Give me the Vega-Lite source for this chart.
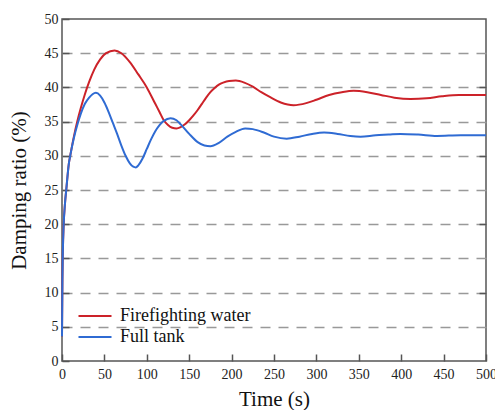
{
  "$schema": "https://vega.github.io/schema/vega-lite/v6.json",
  "width": 424,
  "height": 342,
  "autosize": {"type": "none"},
  "padding": {"left": 62, "top": 19, "right": 9, "bottom": 49},
  "background": "white",
  "config": {
    "font": "Liberation Serif, Times New Roman, serif",
    "view": {"stroke": "#555", "strokeWidth": 1.5},
    "axis": {
      "labelFont": "Liberation Serif, Times New Roman, serif",
      "titleFont": "Liberation Serif, Times New Roman, serif",
      "labelFontSize": 14,
      "titleFontSize": 21,
      "titleFontWeight": "normal",
      "labelColor": "#222",
      "titleColor": "#111",
      "domain": false,
      "tickColor": "#555",
      "tickWidth": 1.5,
      "tickSize": -7
    },
    "legend": {
      "labelFont": "Liberation Serif, Times New Roman, serif",
      "labelFontSize": 18,
      "labelColor": "#111"
    }
  },
  "data": {
    "values": [
      {"series": "Firefighting water", "t": 0, "v": 3.6},
      {"series": "Firefighting water", "t": 0.5, "v": 12},
      {"series": "Firefighting water", "t": 1, "v": 16},
      {"series": "Firefighting water", "t": 2, "v": 20},
      {"series": "Firefighting water", "t": 3.5, "v": 23},
      {"series": "Firefighting water", "t": 5, "v": 25},
      {"series": "Firefighting water", "t": 8, "v": 28.8},
      {"series": "Firefighting water", "t": 10, "v": 30.2},
      {"series": "Firefighting water", "t": 14, "v": 32.8},
      {"series": "Firefighting water", "t": 18, "v": 35.0},
      {"series": "Firefighting water", "t": 22, "v": 36.9},
      {"series": "Firefighting water", "t": 27, "v": 39.0},
      {"series": "Firefighting water", "t": 32, "v": 40.8},
      {"series": "Firefighting water", "t": 38, "v": 42.6},
      {"series": "Firefighting water", "t": 45, "v": 44.1},
      {"series": "Firefighting water", "t": 52, "v": 45.0},
      {"series": "Firefighting water", "t": 62, "v": 45.4},
      {"series": "Firefighting water", "t": 70, "v": 45.0},
      {"series": "Firefighting water", "t": 80, "v": 43.7},
      {"series": "Firefighting water", "t": 90, "v": 41.9},
      {"series": "Firefighting water", "t": 100, "v": 40.0},
      {"series": "Firefighting water", "t": 110, "v": 37.6},
      {"series": "Firefighting water", "t": 115, "v": 36.4},
      {"series": "Firefighting water", "t": 120, "v": 35.2},
      {"series": "Firefighting water", "t": 125, "v": 34.5},
      {"series": "Firefighting water", "t": 130, "v": 34.1},
      {"series": "Firefighting water", "t": 135, "v": 34.0},
      {"series": "Firefighting water", "t": 140, "v": 34.2},
      {"series": "Firefighting water", "t": 145, "v": 34.6},
      {"series": "Firefighting water", "t": 150, "v": 35.2},
      {"series": "Firefighting water", "t": 155, "v": 35.9},
      {"series": "Firefighting water", "t": 160, "v": 36.7},
      {"series": "Firefighting water", "t": 165, "v": 37.6},
      {"series": "Firefighting water", "t": 170, "v": 38.5},
      {"series": "Firefighting water", "t": 175, "v": 39.3},
      {"series": "Firefighting water", "t": 180, "v": 39.9},
      {"series": "Firefighting water", "t": 185, "v": 40.4},
      {"series": "Firefighting water", "t": 190, "v": 40.7},
      {"series": "Firefighting water", "t": 197, "v": 40.95},
      {"series": "Firefighting water", "t": 205, "v": 41.0},
      {"series": "Firefighting water", "t": 215, "v": 40.7},
      {"series": "Firefighting water", "t": 225, "v": 40.1},
      {"series": "Firefighting water", "t": 235, "v": 39.3},
      {"series": "Firefighting water", "t": 245, "v": 38.6},
      {"series": "Firefighting water", "t": 258, "v": 37.8},
      {"series": "Firefighting water", "t": 273, "v": 37.4},
      {"series": "Firefighting water", "t": 288, "v": 37.7},
      {"series": "Firefighting water", "t": 300, "v": 38.2},
      {"series": "Firefighting water", "t": 315, "v": 38.9},
      {"series": "Firefighting water", "t": 330, "v": 39.3},
      {"series": "Firefighting water", "t": 344, "v": 39.5},
      {"series": "Firefighting water", "t": 360, "v": 39.3},
      {"series": "Firefighting water", "t": 376, "v": 38.9},
      {"series": "Firefighting water", "t": 392, "v": 38.5},
      {"series": "Firefighting water", "t": 411, "v": 38.3},
      {"series": "Firefighting water", "t": 430, "v": 38.4},
      {"series": "Firefighting water", "t": 448, "v": 38.7},
      {"series": "Firefighting water", "t": 468, "v": 38.9},
      {"series": "Firefighting water", "t": 500, "v": 38.9},
      {"series": "Full tank", "t": 0, "v": 3.6},
      {"series": "Full tank", "t": 0.5, "v": 12},
      {"series": "Full tank", "t": 1, "v": 16},
      {"series": "Full tank", "t": 2, "v": 20},
      {"series": "Full tank", "t": 3.5, "v": 23},
      {"series": "Full tank", "t": 5, "v": 25},
      {"series": "Full tank", "t": 8, "v": 28.8},
      {"series": "Full tank", "t": 10, "v": 30.2},
      {"series": "Full tank", "t": 14, "v": 32.6},
      {"series": "Full tank", "t": 18, "v": 34.5},
      {"series": "Full tank", "t": 22, "v": 36.1},
      {"series": "Full tank", "t": 27, "v": 37.6},
      {"series": "Full tank", "t": 32, "v": 38.5},
      {"series": "Full tank", "t": 36, "v": 39.0},
      {"series": "Full tank", "t": 40, "v": 39.2},
      {"series": "Full tank", "t": 45, "v": 38.8},
      {"series": "Full tank", "t": 50, "v": 37.8},
      {"series": "Full tank", "t": 55, "v": 36.4},
      {"series": "Full tank", "t": 60, "v": 34.8},
      {"series": "Full tank", "t": 65, "v": 33.2},
      {"series": "Full tank", "t": 70, "v": 31.5},
      {"series": "Full tank", "t": 75, "v": 30.0},
      {"series": "Full tank", "t": 80, "v": 28.9},
      {"series": "Full tank", "t": 84, "v": 28.4},
      {"series": "Full tank", "t": 87, "v": 28.3},
      {"series": "Full tank", "t": 90, "v": 28.6},
      {"series": "Full tank", "t": 95, "v": 29.6},
      {"series": "Full tank", "t": 100, "v": 31.0},
      {"series": "Full tank", "t": 105, "v": 32.4},
      {"series": "Full tank", "t": 110, "v": 33.6},
      {"series": "Full tank", "t": 115, "v": 34.5},
      {"series": "Full tank", "t": 120, "v": 35.1},
      {"series": "Full tank", "t": 128, "v": 35.5},
      {"series": "Full tank", "t": 135, "v": 35.2},
      {"series": "Full tank", "t": 140, "v": 34.6},
      {"series": "Full tank", "t": 150, "v": 33.2},
      {"series": "Full tank", "t": 160, "v": 32.0},
      {"series": "Full tank", "t": 168, "v": 31.5},
      {"series": "Full tank", "t": 175, "v": 31.4},
      {"series": "Full tank", "t": 185, "v": 31.9},
      {"series": "Full tank", "t": 195, "v": 32.8},
      {"series": "Full tank", "t": 205, "v": 33.5},
      {"series": "Full tank", "t": 216, "v": 34.0},
      {"series": "Full tank", "t": 225, "v": 33.9},
      {"series": "Full tank", "t": 238, "v": 33.4},
      {"series": "Full tank", "t": 250, "v": 32.8},
      {"series": "Full tank", "t": 265, "v": 32.5},
      {"series": "Full tank", "t": 280, "v": 32.8},
      {"series": "Full tank", "t": 295, "v": 33.2},
      {"series": "Full tank", "t": 309, "v": 33.4},
      {"series": "Full tank", "t": 325, "v": 33.2},
      {"series": "Full tank", "t": 340, "v": 32.9},
      {"series": "Full tank", "t": 352, "v": 32.8},
      {"series": "Full tank", "t": 370, "v": 33.0},
      {"series": "Full tank", "t": 385, "v": 33.1},
      {"series": "Full tank", "t": 399, "v": 33.2},
      {"series": "Full tank", "t": 420, "v": 33.1},
      {"series": "Full tank", "t": 442, "v": 32.9},
      {"series": "Full tank", "t": 470, "v": 33.0},
      {"series": "Full tank", "t": 500, "v": 33.0}
    ]
  },
  "resolve": {"axis": {"y": "independent"}},
  "layer": [
    {
      "mark": {"type": "line", "strokeWidth": 2, "interpolate": "monotone"},
      "encoding": {
        "x": {
          "field": "t", "type": "quantitative",
          "scale": {"domain": [0, 500], "nice": false},
          "axis": {"values": [0, 50, 100, 150, 200, 250, 300, 350, 400, 450, 500], "title": "Time (s)", "grid": false, "labelPadding": 13, "titlePadding": 7, "labelFlush": false}
        },
        "y": {
          "field": "v", "type": "quantitative",
          "scale": {"domain": [0, 50], "nice": false},
          "axis": {
            "orient": "left",
            "values": [0, 5, 10, 15, 20, 25, 30, 35, 40, 45, 50],
            "title": "Damping ratio (%)",
            "labelPadding": 11,
            "titlePadding": 15,
            "grid": true,
            "gridColor": "#999",
            "gridWidth": 1.5,
            "gridDash": [10, 8],
            "gridOpacity": {"condition": {"test": "datum.value === 0 || datum.value === 50", "value": 0}, "value": 1},
            "labelFlush": false
          }
        },
        "color": {
          "field": "series", "type": "nominal",
          "scale": {"domain": ["Firefighting water", "Full tank"], "range": ["#cc2229", "#2f6bd3"]},
          "legend": {
            "title": null,
            "orient": "none",
            "legendX": 21,
            "legendY": 285,
            "symbolType": "M-1.5,0H1.5",
            "symbolSize": 484,
            "symbolStrokeWidth": 2,
            "labelOffset": 13,
            "rowPadding": 0,
            "padding": 0
          }
        }
      }
    },
    {
      "mark": {"type": "line", "opacity": 0},
      "encoding": {
        "x": {"field": "t", "type": "quantitative"},
        "y": {
          "field": "v", "type": "quantitative",
          "axis": {"orient": "right", "values": [10, 20, 30, 40], "labels": false, "title": null, "grid": false}
        },
        "detail": {"field": "series"}
      }
    }
  ]
}
